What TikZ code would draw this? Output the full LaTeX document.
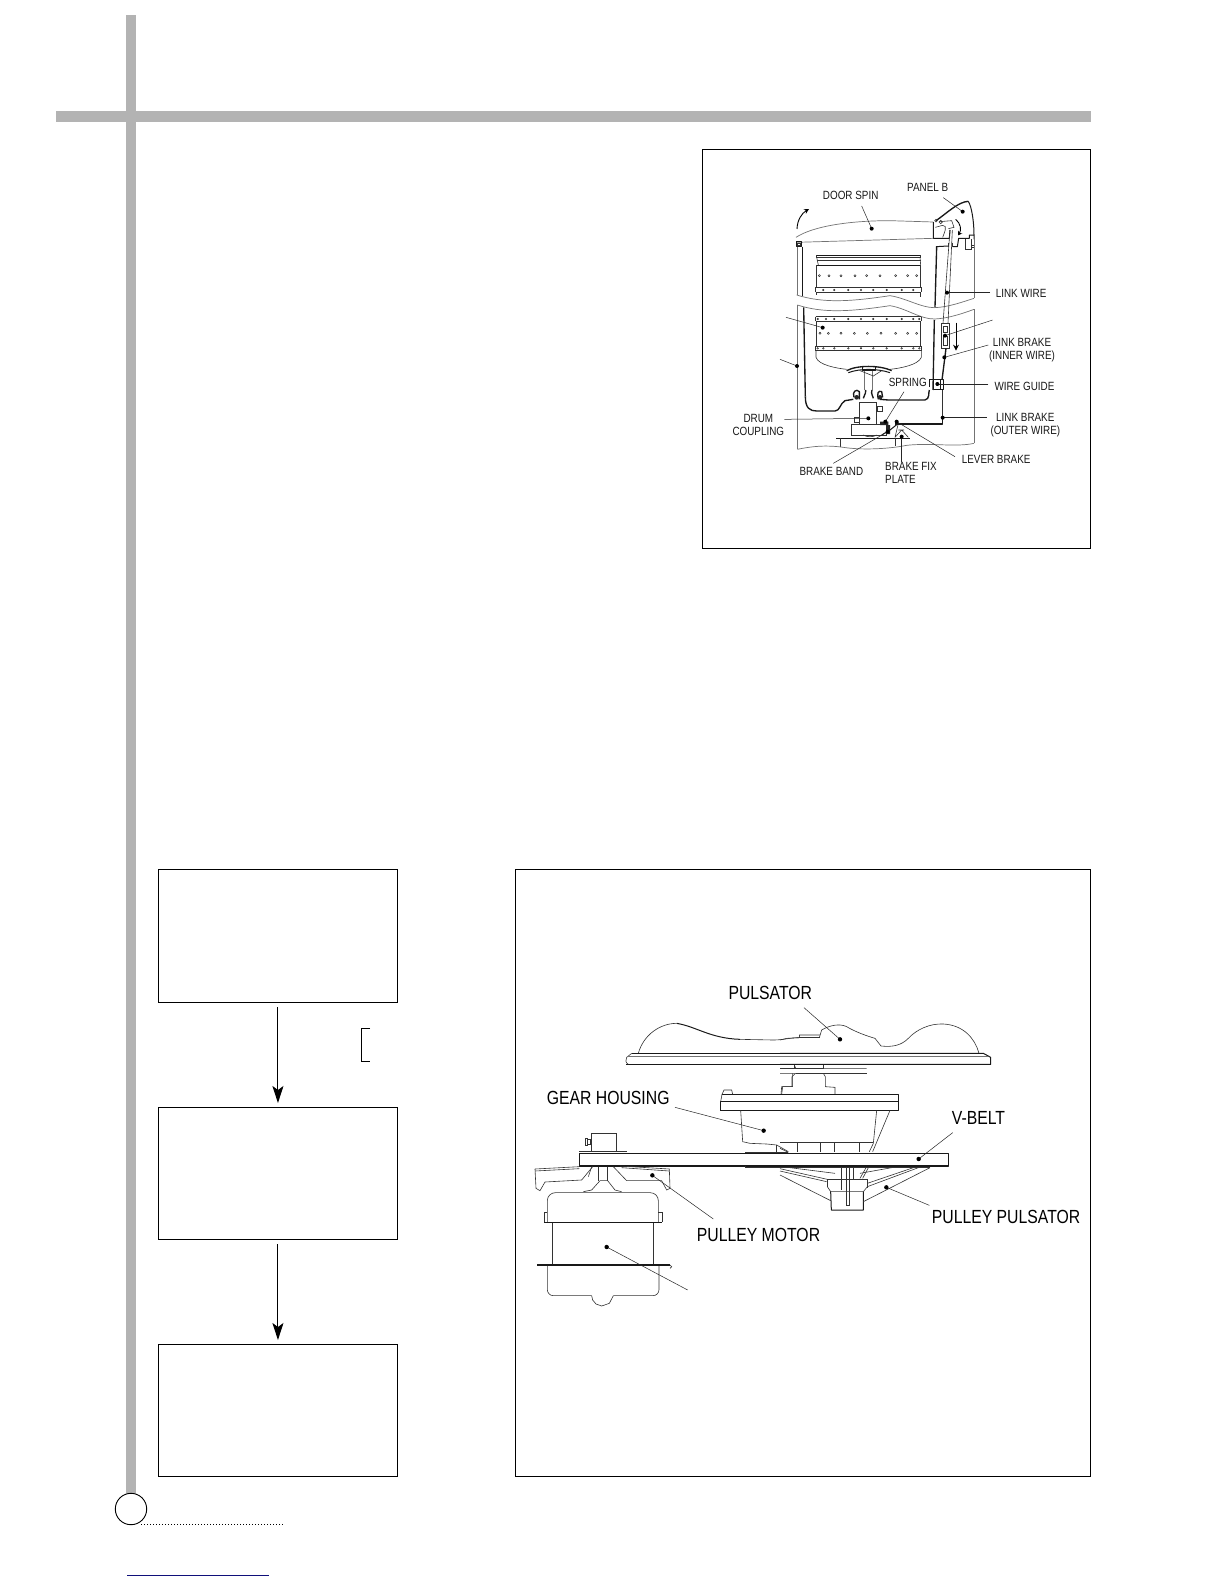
\documentclass[tikz,border=0pt]{standalone}
\usepackage{fontspec}
\usetikzlibrary{arrows.meta}
\setmainfont{Liberation Sans}[FakeStretch=0.83]
\definecolor{barg}{HTML}{B3B3B3}
\definecolor{bluel}{HTML}{10107A}
\tikzset{
  framebox/.style={draw=black,line width=1pt,fill=white,inner sep=0pt,outer sep=0pt,anchor=north west},
  flowarrow/.style={line width=1pt,-{Stealth[length=17pt,width=11pt,inset=4pt]},shorten <=5pt,shorten >=4pt},
  lead/.style={line width=.5pt,black!85},
  thinl/.style={line width=.6pt,black!80},
  grayl/.style={line width=.7pt,black!55},
  thickl/.style={line width=1pt,black!90,line join=round},
  heavy/.style={line width=1.35pt,black!90,line join=round},
  small/.style={font=\fontsize{11.9}{13}\selectfont,inner sep=0pt,align=center,text=black!90},
  big/.style={font=\fontsize{19}{20}\selectfont,inner sep=0pt,anchor=west,text=black},
  holes/.style={line width=.4pt,black!90},
}
\newcommand{\leader}[4][2]{%
  \coordinate (#2-f) at #3; \coordinate (#2-d) at #4;
  \draw[lead] (#2-f) -- (#2-d);
  \fill[black] (#2-d) circle[radius=#1*3];
}
\begin{document}
\begin{tikzpicture}[x=1pt,y=-1pt]
\useasboundingbox (0,0) rectangle (1224,1584);
\fill[white] (0,0) rectangle (1224,1584);
% page rules
\fill[barg] (126,15) rectangle (136,1500);
\fill[barg] (56,111) rectangle (1091,122);
\node[framebox,minimum width=387.8pt,minimum height=399pt] (panelA) at (702.5,149.8) {};
\node[framebox,minimum width=575.3pt,minimum height=607pt] (panelB) at (515,869) {};
\node[framebox,minimum width=239.5pt,minimum height=133.3pt] (b1) at (158.2,869) {};
\node[framebox,minimum width=239.5pt,minimum height=132pt] (b2) at (158.2,1107) {};
\node[framebox,minimum width=239.5pt,minimum height=132pt] (b3) at (158.2,1344) {};
\draw[flowarrow] (b1) -- (b2);
\draw[flowarrow] (b2) -- (b3);
\draw[line width=.9pt] (370,1028.3) -- (361.3,1028.3) -- (361.3,1061.3) -- (370,1061.3);
\node[draw=black,line width=.9pt,fill=white,circle,minimum size=31.4pt,inner sep=0pt] (pagec) at (131,1509) {};
\draw[line width=1pt,dotted] (141,1524) -- (284,1524);
\draw[bluel,line width=1pt] (127,1575.4) -- (269,1575.4);

%% ---- washer, upper half (zoom coordinates /3)
\begin{scope}[shift={(700,150)},scale=1/3]
 % door
 \draw[grayl] (288,262) .. controls (340,228) and (450,212) .. (570,212) -- (700,216);
 \draw[grayl] (290,277) -- (700,265);
 \draw[thickl] (700,216) -- (700,265) -- (748,265) -- (750,240);
 \draw[thinl] (706,232) -- (728,226) .. controls (745,226) and (732,250) .. (728,262);
 \draw[heavy] (708,212) .. controls (740,190) and (775,155) .. (805,154);
 \draw[thickl] (805,154) .. controls (815,170) and (822,215) .. (822,255);
 \draw[thinl] (708,212) circle[radius=4];
 \draw[thinl] (718,215) -- (755,212) -- (762,232) -- (745,236);
 \draw[thinl] (722,216) circle[radius=5];
 % hinge left
 \draw[thickl] (289,275) rectangle (305,290);
 \draw[thinl] (293,279) rectangle (301,287);
 % arrows
 \draw[line width=.9pt,-{Stealth[length=5pt,width=5pt]}] (291,237) .. controls (292,210) and (305,190) .. (327,177);
 \draw[line width=.9pt,-{Stealth[length=4pt,width=5pt]}] (767,208) .. controls (782,220) and (785,240) .. (774,256);
 \draw[line width=.9pt,-{Stealth[length=6pt,width=6pt]}] (768,518) -- (768,602);
 % cabinet right top
 \draw[thickl] (708,290) -- (745,288);
 \draw[thickl] (758,290) -- (772,290) -- (776,265) -- (808,265) -- (808,255) -- (822,255) -- (822,268);
 \draw[thinl] (795,268) -- (795,298) -- (815,298) -- (815,268);
 \draw[thinl] (815,286) rectangle (822,293);
 \draw[thinl] (745,280) -- (745,292); \draw[thinl] (758,280) -- (758,292);
 % cabinet and tub above break
 \draw[grayl] (822,268) -- (822,445);
 \draw[grayl] (292,290) -- (292,435);
 \draw[heavy] (307,290) -- (307,438);
 \draw[heavy] (710,290) -- (705,472);
 % break lines
 \draw[grayl] (290,435) .. controls (370,460) and (450,455) .. (570,437) .. controls (620,445) and (660,472) .. (702,473) .. controls (745,472) and (790,455) .. (822,445);
 \draw[grayl] (292,465) .. controls (370,490) and (450,485) .. (570,467) .. controls (620,475) and (660,508) .. (705,507) .. controls (745,505) and (790,490) .. (822,478);
 % below break
 \draw[grayl] (822,478) -- (822,880);
 \draw[grayl] (292,465) -- (292,898);
 \draw[heavy] (311,472) -- (316,740);
 \draw[heavy] (703,510) -- (699,720);
 % drum top
 \draw[thickl] (350,315) -- (662,315);
 \draw[thinl] (348,315) -- (348,322) -- (662,322) -- (662,315);
 \draw[thinl] (350,330) -- (662,330);
 \draw[thinl] (350,322) -- (355,345) (660,322) -- (662,345);
 \draw[thickl] (350,345) -- (662,345);
 \draw[thinl] (350,345) -- (350,412) (662,345) -- (662,412);
 \draw[thinl] (347,412) -- (664,412) (347,427) -- (664,427);
 \draw[thinl] (347,412) -- (347,427) (664,412) -- (664,427);
 \draw[thinl] (350,427) -- (350,436) (662,427) -- (662,440);
 % drum lower bands
 \draw[thinl] (347,500) -- (664,500) (347,514) -- (664,514);
 \draw[thinl] (347,500) -- (347,514) (664,500) -- (664,514);
 \draw[thinl] (350,514) -- (350,588) (662,514) -- (662,588);
 \draw[thinl] (347,588) -- (664,588) (347,602) -- (664,602);
 \draw[thinl] (347,588) -- (347,602) (664,588) -- (664,602);
 \draw[thinl] (348,602) -- (348,622) .. controls (355,645) and (410,655) .. (440,658);
 \draw[thinl] (664,602) -- (664,622) .. controls (655,645) and (600,655) .. (570,658);
 \foreach \xx in {358,387,423,465,500,540,587,623,650} \draw[holes] (\xx,377) circle[radius=3.2];
 \foreach \xx in {370,403,445,483,520,560,605,640} \draw[holes] (\xx,420) circle[radius=2.5];
 \foreach \xx in {353,378,403,445,483,520,560,605,640,658} \draw[holes] (\xx,507) circle[radius=2.5];
 \foreach \xx in {360,385,423,463,502,543,587,623,650} \draw[holes] (\xx,550) circle[radius=3.2];
 \foreach \xx in {353,370,403,445,483,520,560,605,640,658} \draw[holes] (\xx,595) circle[radius=2.5];
 % link wire
 \draw[thinl] (750,240) -- (729,520) (757,240) -- (744,520);
 \draw[thinl] (725,520) rectangle (748,595);
 \draw[thinl] (730,528) rectangle (743,548) (730,560) rectangle (743,585);
 \draw[heavy] (738,595) -- (726,690);
 % wire guide
 \draw[thickl] (688,688) -- (688,712) (688,688) -- (700,688);
 \draw[thickl] (700,690) rectangle (730,720);
 \draw[thickl] (722,690) -- (722,720);
 % labels
 \node[small] (doorspin) at (452,137) {DOOR SPIN};
 \node[small] (panelb) at (683,113) {PANEL B};
 \node[small,anchor=west] (linkwire) at (887,431) {LINK WIRE};
 \node[small] (linkbi) at (966,600) {LINK BRAKE\\(INNER WIRE)};
 \node[small,anchor=west] (wireg) at (883,708) {WIRE GUIDE};
 \node[small,anchor=west] (spring) at (566,698) {SPRING};
 \leader{l-door}{(485,168)}{(515,236)}
 \leader{l-panel}{(730,143)}{(788,185)}
 \leader{l-lw}{(870,428)}{(741,428)}
 \leader{l-drum}{(258,502)}{(368,533)}
 \leader{l-tub}{(240,628)}{(291,648)}
 \leader{l-lk}{(878,510)}{(735,557)}
 \leader{l-lbi}{(865,585)}{(733,622)}
 \leader{l-wg}{(865,702)}{(712,702)}
\end{scope}

%% ---- washer, lower half
\begin{scope}[shift={(700,340)},scale=1/3]
 % drum bottom / impeller
 \draw[heavy] (440,92) .. controls (470,75) and (540,75) .. (575,92);
 \draw[thickl] (445,98) .. controls (480,85) and (530,85) .. (570,98);
 \draw[thickl] (487,78) rectangle (525,92);
 \draw[grayl] (493,92) -- (493,150) (518,92) -- (518,150);
 \draw[thinl] (480,92) -- (520,108) -- (545,92);
 % tub bottom
 \draw[heavy] (316,170) .. controls (316,205) and (330,213) .. (350,213) -- (405,213) .. controls (420,213) and (420,190) .. (435,182) -- (460,178);
 \draw[heavy] (540,178) -- (565,180) -- (675,180) .. controls (690,178) and (685,155) .. (688,150);
 % coupling bellows
 \draw[heavy] (462,172) .. controls (455,155) and (470,145) .. (478,155) -- (478,178) (490,175) .. controls (495,160) and (500,155) .. (497,150);
 \draw[heavy] (520,175) .. controls (515,160) and (512,155) .. (516,150) (535,178) .. controls (530,160) and (535,150) .. (545,155) -- (548,172);
 \fill[black!85] (470,172) circle[radius=7] (540,172) circle[radius=7];
 \draw[thinl] (478,188) rectangle (528,253);
 \draw[thinl] (532,200) rectangle (547,213);
 \draw[thinl] (462,232) rectangle (478,248);
 \draw[thinl] (453,253) rectangle (560,285);
 \draw[thickl] (408,294) -- (630,294);
 \draw[thinl] (420,294) -- (420,322) (587,294) -- (587,318);
 \draw[thinl] (490,285) .. controls (500,292) and (520,292) .. (530,285);
 \draw[thinl] (605,270) -- (585,292) (605,270) -- (625,292) (595,250) -- (585,292) (595,270) -- (612,270);
 % brake parts
 \fill[black!85] (540,245) rectangle (565,255) (558,255) rectangle (570,282);
 \draw[heavy] (728,235) -- (728,252) -- (585,252);
 \draw[thickl] (595,250) -- (570,270) -- (545,285);
 \draw[thinl] (728,150) -- (728,235);
 % bottom break
 \draw[grayl] (292,328) .. controls (340,318) and (380,315) .. (430,322) .. controls (480,330) and (560,328) .. (620,316) .. controls (690,308) and (770,322) .. (822,310);
 % labels
 \node[small] (drumc) at (175,255) {DRUM\\COUPLING};
 \node[small] (linkbo) at (976,255) {LINK BRAKE\\(OUTER WIRE)};
 \node[small,anchor=west] (leverb) at (785,357) {LEVER BRAKE};
 \node[small,anchor=west] (brakeb) at (298,393) {BRAKE BAND};
 \node[small,align=left,anchor=north west] (brakef) at (555,367) {BRAKE FIX\\PLATE};
 \leader{l-dc}{(253,238)}{(505,235)}
 \leader{l-lbo}{(860,233)}{(728,233)}
 \leader{l-lev}{(765,350)}{(590,245)}
 \leader{l-bb}{(400,370)}{(563,275)}
 \leader{l-bf}{(605,365)}{(605,290)}
 \leader{l-sp}{(612,155)}{(556,245)}
\end{scope}

%% ---- drive assembly, left part
\begin{scope}[shift={(520,970)},scale=1/3]
 % pulsator left
 \draw[thinl] (355,250) .. controls (370,195) and (420,160) .. (470,160);
 \draw[thickl] (470,160) .. controls (530,170) and (570,205) .. (660,208);
 \draw[thinl] (660,208) -- (760,210) .. controls (790,210) and (810,203) .. (838,203) -- (838,195) -- (900,195);
 \draw[thinl] (838,203) -- (900,203);
 \draw[thickl] (335,250) -- (1040,250) (318,283) -- (1040,283);
 \draw[thinl] (335,250) -- (320,262) .. controls (316,270) and (316,278) .. (325,283);
 \draw[grayl] (322,258) -- (1040,258);
 % neck
 \draw[thinl] (823,285) -- (827,295) -- (1040,295);
 \draw[thinl] (827,310) -- (1040,310);
 \draw[thinl] (826,310) -- (816,320) -- (816,350) -- (788,350) -- (785,373);
 % gear flange
 \draw[thickl] (605,373) -- (1040,373) (600,395) -- (1040,395) (600,421) -- (1040,421);
 \draw[thickl] (600,395) -- (600,421);
 \draw[thinl] (602,395) -- (606,373) (606,373) -- (612,360) -- (635,360) -- (638,373);
 % housing
 \draw[thinl] (662,421) -- (668,515) -- (690,520) -- (740,522) -- (770,525) -- (805,545);
 \draw[thinl] (770,525) -- (770,545) (832,518) -- (832,545) (832,518) -- (1040,518);
 \draw[thinl] (675,546) -- (805,546);
 % belt
 \draw[heavy] (178,550) -- (1040,550);
 \draw[heavy] (178,588) -- (1040,588);
 \draw[thickl] (178,550) -- (178,588);
 \draw[thinl] (178,545) -- (320,545);
 \draw[thinl] (213,545) -- (213,490) -- (290,490) -- (290,545);
 \draw[thinl] (195,505) rectangle (202,525) (202,508) rectangle (211,522);
 \draw[thinl] (675,588) -- (675,593) -- (1040,593);
 % pulley motor
 \draw[thinl] (45,597) -- (178,590) (45,603) -- (178,596);
 \draw[thinl] (45,597) -- (48,655) -- (60,662) -- (75,636) -- (185,630) -- (218,590);
 \draw[thinl] (235,590) -- (235,632) (263,590) -- (263,632);
 \draw[thinl] (215,590) -- (205,620);
 \draw[thinl] (190,665) -- (215,660) -- (240,632) -- (263,632) -- (285,660) -- (305,665);
 \draw[thinl] (280,590) -- (320,632) -- (425,632) -- (440,660) -- (450,655) -- (448,597) -- (300,588);
 \draw[thinl] (448,603) -- (305,593);
 % motor
 \draw[thinl,rounded corners=8pt] (82,757) -- (82,668) -- (415,668) -- (415,757);
 \draw[heavy] (72,758) -- (426,758);
 \draw[thinl] (72,755) -- (72,728) -- (82,728) (426,755) -- (426,728) -- (415,728);
 \draw[thinl] (97,760) -- (97,885) (400,760) -- (400,885);
 \draw[heavy] (52,885) -- (450,885);
 \draw[thinl] (450,885) -- (455,890) -- (450,895);
 \draw[thinl,rounded corners=6pt] (82,888) -- (82,977) -- (215,977);
 \draw[thinl,rounded corners=6pt] (280,977) -- (417,977) -- (417,888);
 \draw[thinl] (215,977) -- (218,990) -- (228,1002) -- (245,1008) -- (268,1000) -- (280,977);
 % labels
 \node[big] (pulsator) at (625,68) {PULSATOR};
 \node[big] (gearh) at (80,385) {GEAR HOUSING};
 \node[big] (pulleym) at (530,795) {PULLEY MOTOR};
 \leader[2.2]{l-gh}{(465,412)}{(731,482)}
 \leader[2.2]{l-pm}{(580,747)}{(397,616)}
 \leader[2.2]{l-mot}{(503,960)}{(260,831)}
\end{scope}

%% ---- drive assembly, right part
\begin{scope}[shift={(780,970)},scale=1/3]
 \draw[thinl] (0,210) -- (20,205) -- (58,203) -- (58,195);
 \draw[thinl] (58,203) -- (118,203) -- (125,180) .. controls (150,165) and (180,160) .. (200,170) .. controls (225,185) and (260,198) .. (285,205) -- (303,228) .. controls (340,232) and (365,225) .. (385,205) .. controls (410,178) and (450,160) .. (490,162) .. controls (550,165) and (585,205) .. (597,250);
 \draw[thickl] (0,250) -- (610,250) -- (632,262) -- (632,283) -- (0,283);
 \draw[grayl] (0,258) -- (625,258);
 % neck
 \draw[thinl] (43,285) -- (43,295) -- (130,295) -- (130,285);
 \draw[thinl] (0,295) -- (43,295);
 \draw[thinl] (0,310) -- (130,310) -- (136,320) -- (136,350) -- (165,352) -- (165,373);
 \draw[thinl] (38,310) -- (38,350) -- (5,350) -- (3,373);
 % flange
 \draw[thickl] (0,373) -- (355,373) -- (355,421) -- (0,421);
 \draw[thickl] (0,395) -- (355,395);
 % housing
 \draw[thinl] (290,421) -- (280,520) -- (268,545);
 \draw[thinl] (330,421) -- (278,545);
 \draw[thinl] (0,518) -- (280,518);
 \foreach \xx in {52,120,162,238} \draw[thinl] (\xx,518) -- (\xx,547);
 \draw[thinl] (0,535) -- (25,547);
 % belt
 \draw[heavy] (0,550) -- (505,550) -- (505,588) -- (0,588);
 \draw[thinl] (0,593) -- (450,593);
 % pulley pulsator
 \draw[thinl] (0,615) -- (152,692);
 \draw[thinl] (0,596) -- (142,628);
 \draw[thinl] (0,603) -- (140,635);
 \draw[thinl] (30,593) -- (165,610);
 \draw[thinl] (142,650) -- (142,628) -- (262,628) -- (262,655);
 \draw[thinl] (142,650) -- (152,665) -- (250,665) -- (262,650);
 \draw[thickl] (152,665) -- (154,720) -- (250,720) -- (250,665);
 \draw[thinl] (183,593) -- (183,660) (198,593) -- (198,705) -- (207,705) -- (207,593) (220,593) -- (220,628);
 \draw[thinl] (250,695) -- (450,593);
 \draw[thinl] (262,650) -- (415,593);
 \draw[thinl] (262,640) -- (400,593);
 \draw[thinl] (240,625) -- (258,593) (248,625) -- (265,593);
 \draw[thinl] (335,593) -- (240,610);
 % labels
 \node[big] (vbelt) at (515,445) {V-BELT};
 \node[big] (pulleyp) at (455,740) {PULLEY PULSATOR};
 \leader[2.2]{l-pul}{(72,113)}{(180,208)}
 \leader[2.2]{l-vb}{(518,488)}{(416,567)}
 \leader[2.2]{l-pp}{(448,706)}{(319,652)}
\end{scope}
\end{tikzpicture}
\end{document}
